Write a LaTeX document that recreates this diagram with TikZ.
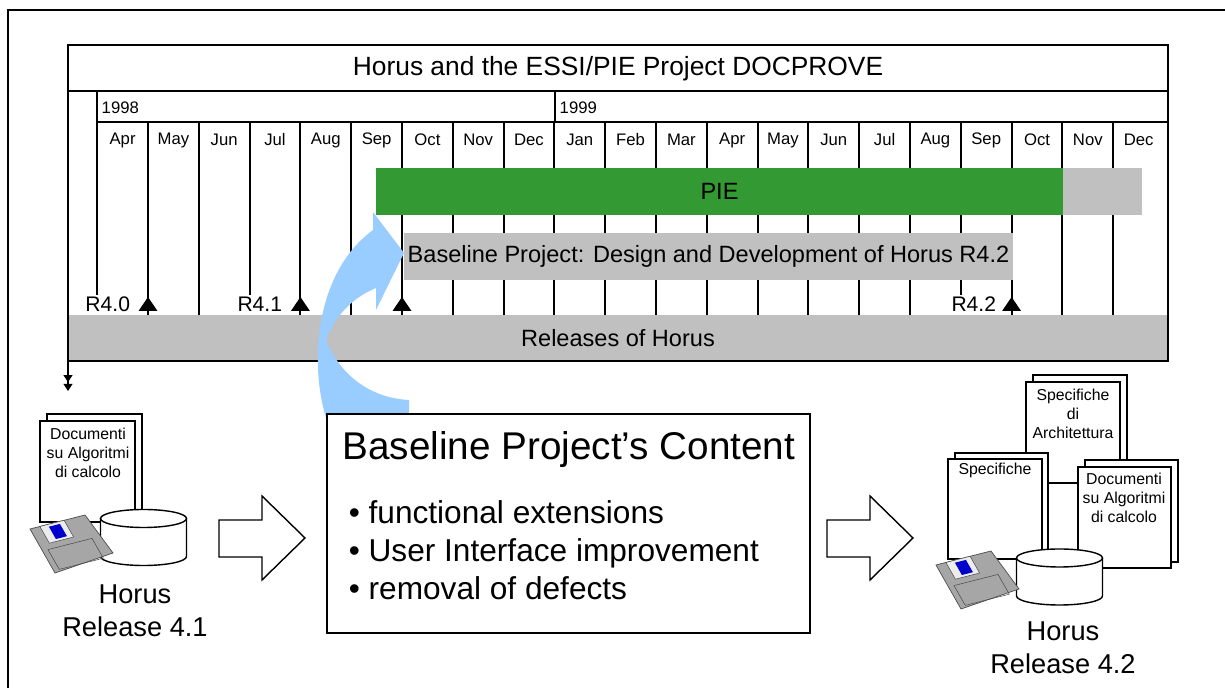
\documentclass[tikz,border=0pt]{standalone}
\usepackage{fontspec}
\setmainfont{Liberation Sans}
\usetikzlibrary{arrows.meta}

\definecolor{piegreen}{HTML}{339933}
\definecolor{bargray}{HTML}{C0C0C0}
\definecolor{curveblue}{HTML}{99CCFF}
\definecolor{floppygray}{HTML}{A6A6A6}
\newcommand{\fsize}[2]{\fontsize{#1}{#2}\selectfont}

\tikzset{
  floppy/.pic={
    \filldraw[fill=floppygray, draw=gray!60!black, line width=0.4pt]
      (0,0) -- (55,-14) -- (83,24) -- (25,44) -- cycle;
    \filldraw[fill=gray!15, draw=gray!60!black, line width=0.3pt]
      (9.9,-2.5) -- (34.1,-8.7) -- (43.6,8) -- (19.4,14.2) -- cycle;
    \fill[blue!80!black] (18.9,-2.3) -- (29.9,-5.1) -- (36.9,7.2) -- (25.9,10) -- cycle;
    \draw[gray!60!black, line width=0.3pt]
      (18,20.6) -- (62,9.4) -- (73.3,29.2) -- (29.3,40.4) -- cycle;
  },
  disk/.pic={
    \filldraw[fill=white, line width=0.8pt] (-43,0) -- (-43,38)
      arc[start angle=180, end angle=0, x radius=43, y radius=9] -- (43,0);
    \filldraw[fill=white, line width=0.8pt] (0,0) ellipse [x radius=43, y radius=9];
  }
}

\begin{document}
\begin{tikzpicture}[x=0.02cm, y=-0.02cm, line width=1.1pt,
  month/.style={font=\fsize{9.5}{11}},
  bartext/.style={font=\fsize{13.4}{16}},
  rel/.style={font=\fsize{12}{14}, anchor=east, inner sep=0pt},
  page/.style={draw, fill=white, line width=0.8pt},
  doctext/.style={font=\fsize{9}{10.8}, align=center},
  item/.style={font=\fsize{18}{21}, anchor=base west},
  hollow/.style={draw, fill=white, line width=0.8pt},
  caption/.style={font=\fsize{15.5}{18.7}, align=center}]

\useasboundingbox (0,0) rectangle (1225,688);

% frame round everything
\draw[line width=0.9pt] (8,688) -- (8,10) -- (1225,10);

% month grid
\foreach \i in {1,2,4,5,6,7,8,9,10,11,12,13,14,15,16,18,19,20}
  \draw ({97.2+50.8*\i},122) -- ({97.2+50.8*\i},315);
% shorter ones, room for the release labels
\foreach \i in {3,17}
  \draw ({97.2+50.8*\i},122) -- ({97.2+50.8*\i},295);
\draw (97.2,91) -- (97.2,295);
\draw (555.2,91) -- (555.2,122);
\draw[line width=0.8pt] (68,91) -- (1168,91);
\draw (97.2,122) -- (1168,122);

\node[font=\fsize{15}{18}] (title) at (618,69) {Horus and the ESSI/PIE Project DOCPROVE};
\node[month, anchor=west, inner sep=1pt] (y98) at (99,108) {1998};
\node[month, anchor=west, inner sep=1pt] (y99) at (557,108) {1999};
\foreach \m [count=\i from 0] in {Apr,May,Jun,Jul,Aug,Sep,Oct,Nov,Dec,Jan,Feb,Mar,Apr,May,Jun,Jul,Aug,Sep,Oct,Nov,Dec}
  \node[month] (m\i) at ({97.2+50.8*(\i+0.5)},140) {\m};

% bars
\fill[piegreen] (376,168) rectangle (1063,215);
\fill[bargray] (1063,168) rectangle (1142,215);
\node[bartext] (pie) at (719.5,191.5) {PIE};
\fill[bargray] (404,233) rectangle (1013,280);
\node[bartext] (base) at (708.5,256.5) {Baseline Project: Design and Development of Horus R4.2};
\fill[bargray] (68,315) rectangle (1168,361);
\node[bartext] (rels) at (618,338) {Releases of Horus};

% release markers
\foreach \i in {1,4,6,18}
  \fill ({97.2+50.8*\i},297) -- ({97.2+50.8*\i+9.5},311) -- ({97.2+50.8*\i-9.5},311) -- cycle;
\node[rel] (r40) at (131,304) {R4.0};
\node[rel] (r41) at (283,304) {R4.1};
\node[rel] (r42) at (997,304) {R4.2};

% table outline
\draw (68,361) -- (68,45) -- (1168,45) -- (1168,361) -- cycle;
\coordinate (corner) at (68,361);
\coordinate (down) at (68,391);
\draw[line width=0.8pt, -{Triangle[length=4pt,width=5pt,sep=1pt]Triangle[length=4pt,width=5pt]}] (corner) -- (down);

% curved arrow
\fill[curveblue] (327,421) .. controls (310,370) and (312,275) .. (373,230)
  -- (373,212) -- (404,253) -- (376,310) -- (376,288)
  .. controls (352,298) and (335,316) .. (326,340)
  .. controls (340,375) and (370,398) .. (409,400) -- (409,421) -- cycle;

% content box
\filldraw[fill=white, line width=0.8pt] (327,414) rectangle (810,633);
\node[font=\fsize{22}{26}] (ctitle) at (569,450) {Baseline Project’s Content};
\node[item] (it1) at (342,524) {\textbullet\ functional extensions};
\node[item] (it2) at (342,562) {\textbullet\ User Interface improvement};
\node[item] (it3) at (342,600) {\textbullet\ removal of defects};

% release 4.1
\draw[page] (47,414) rectangle (142,515);
\draw[page] (40,421) rectangle (135,522);
\node[doctext] (doc1) at (88,453) {Documenti\\su Algoritmi\\di calcolo};
\pic (disk1) at (143.5,518.5) {disk};
\pic (fl1) at (30,529) {floppy};
\node[caption] (h41) at (135,611) {Horus\\Release 4.1};

% hollow arrows
\filldraw[hollow] (219,520) -- (262,520) -- (262,496) -- (305,538) -- (262,580)
  -- (262,557) -- (219,557) -- cycle;
\filldraw[hollow] (827,520) -- (870,520) -- (870,496) -- (913,538) -- (870,580)
  -- (870,557) -- (827,557) -- cycle;

% release 4.2
\draw[page] (1033,375) rectangle (1127,477);
\draw[page] (1026,382) rectangle (1120,483);
\node[doctext] (arch) at (1073,414) {Specifiche\\di\\Architettura};
\draw[page] (955,453) rectangle (1048,553);
\draw[page] (948,459) rectangle (1042,559);
\node[doctext] (spec) at (995,470) {Specifiche};
\draw[page] (1085,460) rectangle (1178,562);
\draw[page] (1078,467) rectangle (1171,568);
\node[doctext] (doc2) at (1124,498) {Documenti\\su Algoritmi\\di calcolo};
\pic (disk2) at (1059.5,558) {disk};
\pic (fl2) at (936,565) {floppy};
\node[caption] (h42) at (1063,648) {Horus\\Release 4.2};

\end{tikzpicture}
\end{document}
